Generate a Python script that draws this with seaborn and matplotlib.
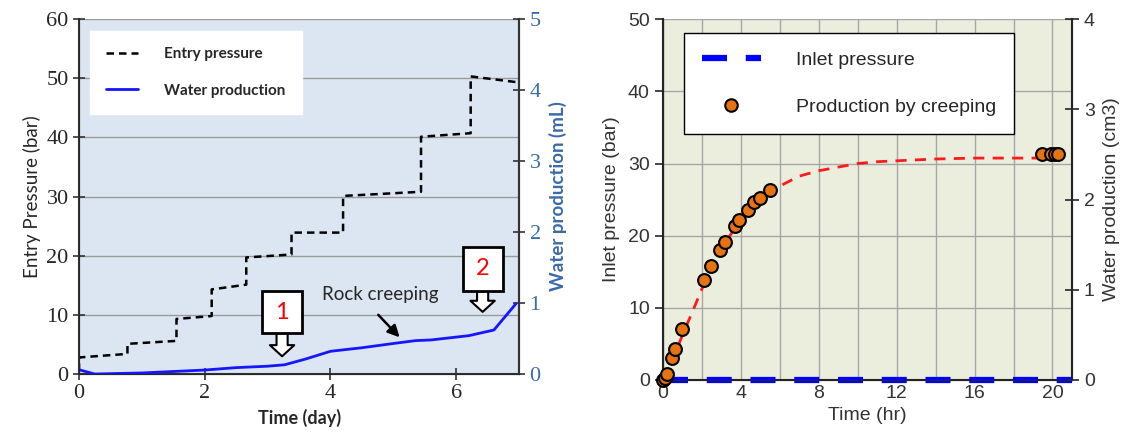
import matplotlib
matplotlib.use("Agg")
import matplotlib.pyplot as plt
import seaborn as sns
import pandas as pd
from matplotlib.patches import Rectangle
from matplotlib.lines import Line2D

# ---- left chart data: entry pressure (bar) and water production (mL) vs time (day)
entry_t = [0.0, 0.0, 0.77, 0.77, 1.55, 1.55, 2.11, 2.11, 2.66, 2.66, 3.38, 3.38,
           4.20, 4.20, 5.44, 5.44, 6.23, 6.23, 6.98]
entry_p = [0.5, 2.8, 3.4, 5.1, 5.6, 9.3, 9.8, 14.3, 15.1, 19.7, 20.2, 23.9,
           23.9, 30.1, 30.8, 40.1, 40.7, 50.3, 49.3]
water_t = [0.0, 0.25, 1.0, 2.0, 2.5, 3.0, 3.27, 3.6, 4.0, 4.5, 5.0, 5.35, 5.6, 6.2, 6.6, 6.95]
water_ml = [0.06, 0.0, 0.015, 0.056, 0.09, 0.11, 0.13, 0.21, 0.32, 0.37, 0.43, 0.47, 0.48, 0.54, 0.62, 0.99]

# ---- right chart data: inlet pressure (bar), production (cm3), fitted curve (cm3) vs time (hr)
inlet_t = [0.0, 21.0]
inlet_p = [0.0, 0.0]
prod_t = [0.0, 0.1, 0.2, 0.48, 0.61, 1.0, 2.13, 2.47, 2.91, 3.19, 3.69, 3.9, 4.36, 4.69,
          5.0, 5.49, 19.48, 19.9, 20.13, 20.3]
prod_cm3 = [0.0, 0.02, 0.07, 0.24, 0.34, 0.57, 1.11, 1.26, 1.44, 1.53, 1.71, 1.77, 1.88,
            1.97, 2.02, 2.11, 2.51, 2.51, 2.51, 2.51]
fit_t = [0, 0.25, 0.5, 1, 1.5, 2, 2.5, 3, 3.5, 4, 4.5, 5, 6, 7, 8, 9, 10, 11, 12, 14, 16, 18, 20.3]
fit_cm3 = [0, 0.08, 0.22, 0.50, 0.75, 1.01, 1.25, 1.46, 1.62, 1.77, 1.89, 1.99, 2.15, 2.26,
           2.32, 2.36, 2.40, 2.42, 2.43, 2.45, 2.46, 2.46, 2.46]

# annotation boxes on left chart: (label, x, tip, box bottom, box top)
markers = [("1", 3.23, 3.0, 6.9, 14.0), ("2", 6.42, 10.5, 14.0, 21.5)]

sns.set_style("ticks")
fig = plt.figure(figsize=(11.26, 4.46), dpi=100)

# ================= left chart =================
lab_font = "Lato"
num_font = "Liberation Serif"
blue_lab = "#3b6aa8"

ax1 = fig.add_axes([0.0702, 0.1614, 0.3908, 0.796])
ax1.set_facecolor("#dce6f2")
ax1.set_axisbelow(True)
ax1.grid(axis="y", color="#9a9a9a", lw=1)
ax1.grid(axis="x", visible=False)

sns.lineplot(x=entry_t, y=entry_p, ax=ax1, sort=False, estimator=None,
             color="black", lw=1.8, dashes=False, linestyle=(0, (3, 2)))
ax1.set_xlim(0, 7)
ax1.set_ylim(0, 60)
ax1.set_xticks([0, 2, 4, 6])
ax1.set_yticks(range(0, 61, 10))
ax1.tick_params(direction="inout", length=8, width=1.2, labelsize=16, color="#333333",
                labelfontfamily=num_font)
ax1.set_xlabel("Time (day)", fontsize=13, fontfamily=lab_font, fontweight="bold")
ax1.set_ylabel("Entry Pressure (bar)", fontsize=13.5, fontfamily=lab_font, labelpad=4)
ax1.spines["top"].set_visible(False)
for s in ["left", "bottom", "right"]:
    ax1.spines[s].set_color("#333333")
    ax1.spines[s].set_linewidth(1.5)

ax1b = ax1.twinx()
sns.lineplot(x=water_t, y=water_ml, ax=ax1b, sort=False, estimator=None,
             color="#1515ff", lw=2)
ax1b.set_ylim(0, 5)
ax1b.set_yticks(range(0, 6))
ax1b.tick_params(direction="inout", length=8, width=1.2, labelsize=16, color="#333333",
                 labelcolor=blue_lab, labelfontfamily=num_font)
ax1b.set_ylabel("Water production (mL)", fontsize=13.5, fontfamily=lab_font,
                fontweight="bold", color=blue_lab, labelpad=6)
ax1b.spines["top"].set_visible(False)
ax1b.spines["right"].set_color("#333333")
ax1b.spines["right"].set_linewidth(1.5)
ax1b.grid(False)

# numbered boxes with hollow arrows
for lab, x, tip, bot, top in markers:
    ax1.annotate("", xy=(x, tip), xytext=(x, bot),
                 arrowprops=dict(arrowstyle="simple,head_length=0.8,head_width=1.75,tail_width=0.8",
                                 fc="white", ec="black", lw=1.5, shrinkA=0, shrinkB=0))
    ax1.add_patch(Rectangle((x - 0.32, bot), 0.64, top - bot, fc="white", ec="black", lw=2,
                            zorder=5))
    ax1.text(x, (bot + top) / 2, lab, color="red", fontsize=17, fontfamily=lab_font,
             ha="center", va="center", zorder=6)

ax1.text(3.87, 13.4, "Rock creeping", fontsize=13.5, fontfamily=lab_font, va="center")
ax1.annotate("", xy=(5.1, 6.2), xytext=(4.76, 10.0),
             arrowprops=dict(arrowstyle="-|>,head_length=0.7,head_width=0.35", color="black",
                             lw=1.8, shrinkA=0, shrinkB=0))

h1 = [Line2D([], [], color="black", lw=1.8, linestyle=(0, (3, 2))),
      Line2D([], [], color="#1515ff", lw=2)]
leg1 = ax1.legend(h1, ["Entry pressure", "Water production"], loc="upper left",
                  bbox_to_anchor=(0.025, 0.965), frameon=True, fancybox=False,
                  framealpha=1, edgecolor="white", facecolor="white",
                  prop={"family": lab_font, "weight": "bold", "size": 11},
                  handlelength=2.1, handletextpad=1.7, labelspacing=1.45,
                  borderpad=1.05, borderaxespad=0)
leg1.set_zorder(7)

# ================= right chart =================
rfont = "Liberation Sans"
tcol = "#333333"

ax2 = fig.add_axes([0.5888, 0.148, 0.3632, 0.809])
ax2.set_facecolor("#ebeedd")
ax2.set_axisbelow(True)
ax2.grid(True, color="#a6a6a6", lw=1)

sns.lineplot(x=inlet_t, y=inlet_p, ax=ax2, color="#0000ff", lw=4.5,
             linestyle=(0, (4, 3)), clip_on=False, zorder=4)
ax2.set_xlim(0, 21)
ax2.set_ylim(0, 50)
ax2.set_xticks(range(0, 21, 2))
ax2.set_xticklabels(["0", "", "4", "", "8", "", "12", "", "16", "", "20"])
ax2.set_yticks(range(0, 51, 10))
ax2.tick_params(axis="x", length=0, labelsize=14, labelcolor=tcol, labelfontfamily=rfont)
ax2.tick_params(axis="y", direction="out", length=6, width=1.2, labelsize=14, labelcolor=tcol,
                labelfontfamily=rfont)
ax2.set_xlabel("Time (hr)", fontsize=14, fontfamily=rfont, color=tcol, labelpad=4)
ax2.set_ylabel("Inlet pressure (bar)", fontsize=14, fontfamily=rfont, color=tcol, labelpad=6)
ax2.spines["top"].set_visible(False)
for s in ["left", "bottom", "right"]:
    ax2.spines[s].set_color("#222222")
    ax2.spines[s].set_linewidth(1.5)

ax2b = ax2.twinx()
sns.lineplot(x=fit_t, y=fit_cm3, ax=ax2b, color="#ff1a1a", lw=2, linestyle=(0, (4, 3)))
sns.scatterplot(x=prod_t, y=prod_cm3, ax=ax2b, color="#e6730f", edgecolor="black",
                linewidth=1.5, s=85, zorder=5, clip_on=False)
ax2b.set_ylim(0, 4)
ax2b.set_yticks(range(0, 5))
ax2b.tick_params(direction="inout", length=10, width=1.2, labelsize=14, labelcolor=tcol,
                 labelfontfamily=rfont)
ax2b.set_ylabel("Water production (cm3)", fontsize=14, fontfamily=rfont, color=tcol,
                labelpad=6)
ax2b.spines["top"].set_visible(False)
ax2b.grid(False)

h2 = [Line2D([], [], color="#0000ff", lw=4.5, linestyle=(0, (4, 3))),
      Line2D([], [], color="#e6730f", marker="o", markeredgecolor="black", markersize=9,
             markeredgewidth=1.5, linestyle="none")]
leg2 = ax2b.legend(h2, ["Inlet pressure", "Production by creeping"], loc="upper left",
                   bbox_to_anchor=(0.051, 0.962), frameon=True, fancybox=False,
                   framealpha=1, edgecolor="black", facecolor="white",
                   prop={"family": rfont, "size": 14}, handlelength=3.0,
                   handletextpad=1.8, labelspacing=1.5, borderpad=0.95, borderaxespad=0)
leg2.get_frame().set_linewidth(1)

fig.savefig("out.png", dpi=100)
